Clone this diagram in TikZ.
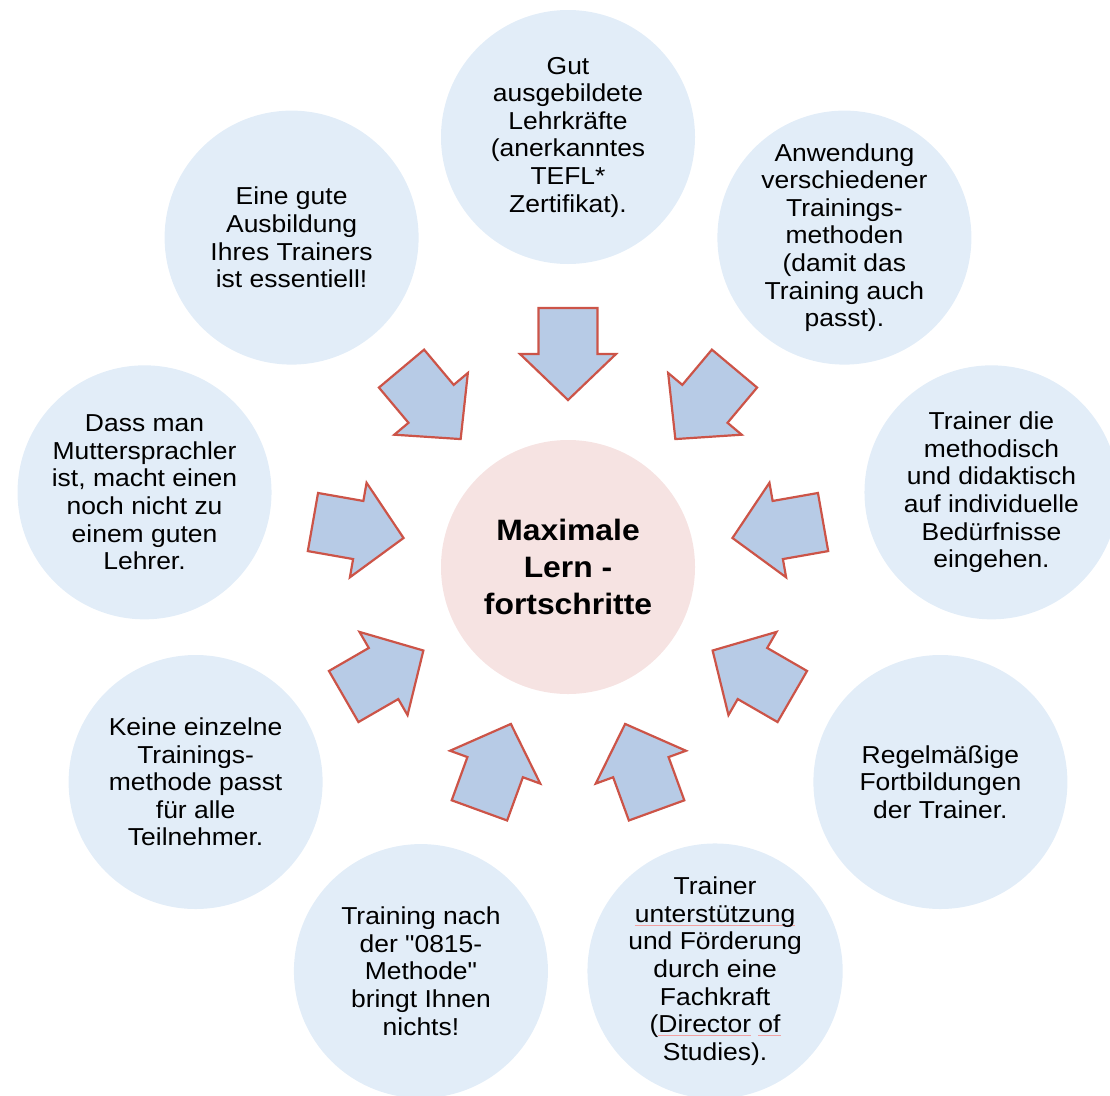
\documentclass[tikz,border=0pt]{standalone}
\usepackage{fontspec}
\setmainfont{Liberation Sans}[FakeStretch=1.08, Ligatures=TeXOff]
\definecolor{outerfill}{RGB}{226,237,248}
\definecolor{centerfill}{RGB}{246,227,226}
\definecolor{arrowfill}{RGB}{183,203,230}
\definecolor{arrowline}{RGB}{204,84,72}
\definecolor{squigcol}{RGB}{242,160,160}
\newcommand\spellmark[1]{\setbox0\hbox{#1}\rlap{\color{squigcol}\rule[-3.5pt]{\wd0}{0.9pt}}#1}
\begin{document}
\begin{tikzpicture}[x=1pt,y=1pt,
  outercirc/.style={circle, fill=outerfill, minimum size=254pt, inner sep=0pt, align=center,
    font=\fontsize{24.5}{27.6}\selectfont},
  centercirc/.style={circle, fill=centerfill, minimum size=254pt, inner sep=0pt, align=center,
    font=\fontsize{29.5}{37}\selectfont\bfseries},
  blockarrow/.style={fill=arrowfill, draw=arrowline, line width=2.2pt, line join=miter}]
\useasboundingbox (0,0) rectangle (1110,-1095);
\clip (0,0) rectangle (1110,-1095);
\coordinate (C) at (568,-567);
\node[centercirc] (ctr) at (C) {Maximale\\Lern -\\fortschritte};
\node[outercirc] (o1) at ([shift={(90:430)}]C) {Gut\\ausgebildete\\Lehrkräfte\\(anerkanntes\\TEFL*\\Zertifikat).};
\node[outercirc] (o2) at ([shift={(50:430)}]C) {Anwendung\\verschiedener\\Trainings-\\methoden\\(damit das\\Training auch\\passt).};
\node[outercirc] (o3) at ([shift={(10:430)}]C) {Trainer die\\methodisch\\und didaktisch\\auf individuelle\\Bedürfnisse\\eingehen.};
\node[outercirc] (o4) at ([shift={(330:430)}]C) {Regelmäßige\\Fortbildungen\\der Trainer.};
\node[outercirc] (o5) at ([shift={(290:430)}]C) {Trainer\\\spellmark{unterstützung}\\und Förderung\\durch eine\\Fachkraft\\(\spellmark{Director} \spellmark{of}\\Studies).};
\node[outercirc] (o6) at ([shift={(250:430)}]C) {Training nach\\der "0815-\\Methode"\\bringt Ihnen\\nichts!};
\node[outercirc] (o7) at ([shift={(210:430)}]C) {Keine einzelne\\Trainings-\\methode passt\\für alle\\Teilnehmer.};
\node[outercirc] (o8) at ([shift={(170:430)}]C) {Dass man\\Muttersprachler\\ist, macht einen\\noch nicht zu\\einem guten\\Lehrer.};
\node[outercirc] (o9) at ([shift={(130:430)}]C) {Eine gute\\Ausbildung\\Ihres Trainers\\ist essentiell!};
\foreach \a in {90,130,170,210,250,290,330,370,410}{
  \draw[blockarrow, shift={(C)}, rotate=\a]
    (259,29.5) -- (213,29.5) -- (213,48) -- (167,0) -- (213,-48) -- (213,-29.5) -- (259,-29.5) -- cycle;
}
\end{tikzpicture}
\end{document}
